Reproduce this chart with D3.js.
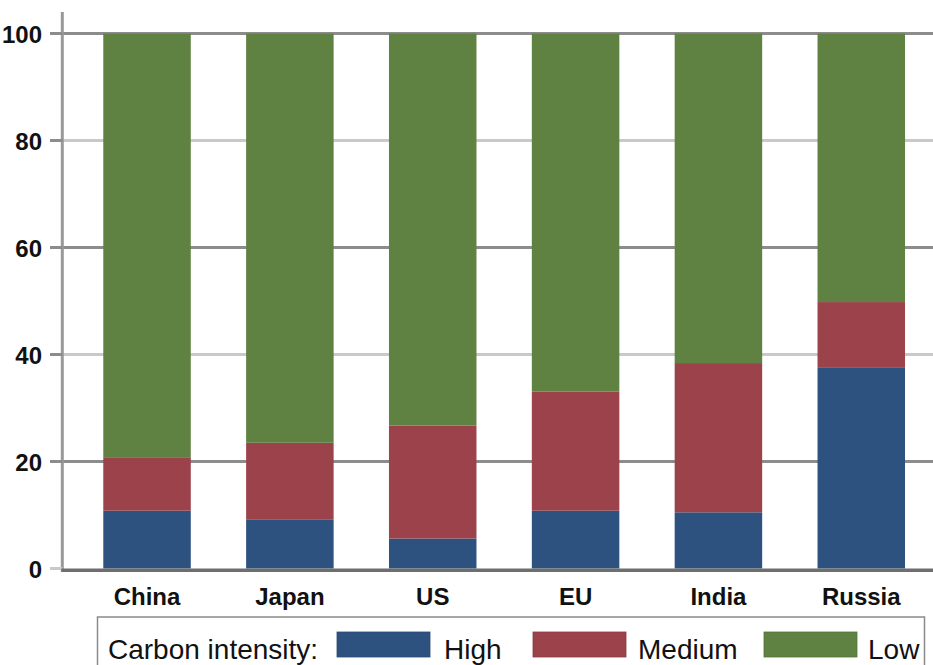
<!DOCTYPE html>
<html>
<head>
<meta charset="utf-8">
<script src="https://cdn.jsdelivr.net/npm/d3@7"></script>
<style>
  html, body { margin: 0; padding: 0; background: #fff; }
  svg { display: block; }
</style>
</head>
<body>
<script>
// ---- data ----
const categories = ["China", "Japan", "US", "EU", "India", "Russia"];
const seriesNames = ["High", "Medium", "Low"];
const high   = [10.8,  9.1,  5.6, 10.8, 10.5, 37.5];
const medium = [10.0, 14.4, 21.1, 22.3, 27.9, 12.3];
const low    = [79.2, 76.5, 73.3, 66.9, 61.6, 50.2];
const yTicks = [0, 20, 40, 60, 80, 100];
const legendTitle = "Carbon intensity:";

// ---- setup ----
const W = 933, H = 665;
const colors = { High: "#2d5280", Medium: "#9b424b", Low: "#5f8141" };

const svg = d3.select("body").append("svg").attr("width", W).attr("height", H);

const rows = categories.map((c, i) => ({ cat: c, High: high[i], Medium: medium[i], Low: low[i] }));
const stacked = d3.stack().keys(seriesNames)(rows);

const x = d3.scaleBand().domain(categories).range([75.6, 932.7]).paddingInner(0.3875).paddingOuter(0.19375);
const y = d3.scaleLinear().domain([0, 100]).range([568.5, 33.5]);

const axisX = 62.3;

// gridlines
svg.append("g").selectAll("line").data(yTicks.filter(t => t > 0)).join("line")
  .attr("x1", axisX).attr("x2", W)
  .attr("y1", d => y(d)).attr("y2", d => y(d))
  .attr("stroke", (d, i) => (yTicks.indexOf(d) % 2 === 1) ? "#8c8c8c" : "#c9c9c9")
  .attr("stroke-width", 3);

// bars
svg.append("g").selectAll("g").data(stacked).join("g")
  .attr("fill", d => colors[d.key])
  .selectAll("rect").data(d => d).join("rect")
  .attr("x", d => x(d.data.cat))
  .attr("width", x.bandwidth())
  .attr("y", d => y(d[1]))
  .attr("height", d => y(d[0]) - y(d[1]));

// y axis line
svg.append("line").attr("x1", axisX).attr("x2", axisX).attr("y1", 12).attr("y2", 572)
  .attr("stroke", "#999").attr("stroke-width", 3);

// y ticks
svg.append("g").selectAll("line").data(yTicks).join("line")
  .attr("x1", 50).attr("x2", axisX)
  .attr("y1", d => y(d)).attr("y2", d => y(d))
  .attr("stroke", d => d === 0 ? "#c9c9c9" : "#8c8c8c")
  .attr("stroke-width", 3);

// x axis (baseline)
svg.append("line").attr("x1", axisX - 1).attr("x2", W).attr("y1", 570.3).attr("y2", 570.3)
  .attr("stroke", "#6e6e6e").attr("stroke-width", 3.5);

// y labels
svg.append("g").selectAll("text").data(yTicks).join("text")
  .attr("x", 42).attr("y", d => y(d) + 9)
  .attr("text-anchor", "end")
  .attr("font-family", "'Liberation Sans', Arial, sans-serif")
  .attr("font-weight", "bold").attr("font-size", 24)
  .attr("fill", "#111")
  .text(d => d);

// x labels
svg.append("g").selectAll("text").data(categories).join("text")
  .attr("x", d => x(d) + x.bandwidth() / 2).attr("y", 605)
  .attr("text-anchor", "middle")
  .attr("font-family", "'Liberation Sans', Arial, sans-serif")
  .attr("font-weight", "bold").attr("font-size", 24)
  .attr("fill", "#111")
  .text(d => d);

// legend
const lg = svg.append("g");
lg.append("rect").attr("x", 97.5).attr("y", 617).attr("width", 827).attr("height", 60)
  .attr("fill", "#fff").attr("stroke", "#8a8a8a").attr("stroke-width", 1.5);
lg.append("text").attr("x", 108).attr("y", 659)
  .attr("font-family", "'Liberation Sans', Arial, sans-serif").attr("font-size", 28)
  .attr("fill", "#111").text(legendTitle);
const swX = [337, 533, 764];
const txX = [444, 638, 868];
seriesNames.forEach((s, i) => {
  lg.append("rect").attr("x", swX[i]).attr("y", 632).attr("width", 93).attr("height", 25)
    .attr("fill", colors[s]).attr("stroke", d3.color(colors[s]).darker(0.3)).attr("stroke-width", 0.8);
  lg.append("text").attr("x", txX[i]).attr("y", 659)
    .attr("font-family", "'Liberation Sans', Arial, sans-serif").attr("font-size", 28)
    .attr("fill", "#111").text(s);
});
</script>
</body>
</html>
